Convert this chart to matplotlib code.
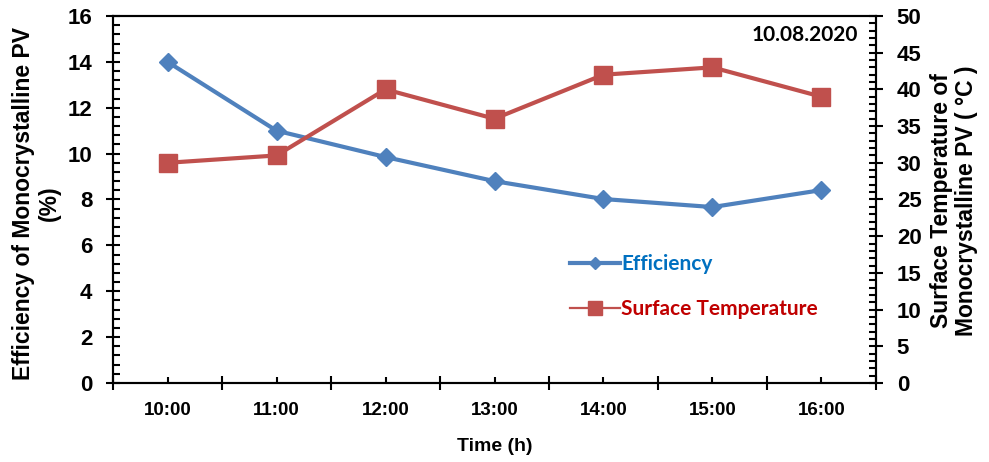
import matplotlib.pyplot as plt
from matplotlib.lines import Line2D
from matplotlib.ticker import MultipleLocator, FixedLocator

# data
times = ['10:00', '11:00', '12:00', '13:00', '14:00', '15:00', '16:00']
efficiency = [14.0, 11.0, 9.85, 8.8, 8.02, 7.67, 8.41]
surface_temp = [30, 31, 40, 36, 42, 43, 39]

blue = '#4F81BD'
red = '#C0504D'
calib = ['Lato', 'DejaVu Sans']

plt.rcParams['font.family'] = ['Liberation Sans', 'DejaVu Sans']
plt.rcParams['font.weight'] = 'bold'

fig = plt.figure(figsize=(9.89, 4.62), dpi=100)
ax = fig.add_axes([0.1143, 0.171, 0.7714, 0.7944])
ax2 = ax.twinx()

x = list(range(len(times)))
ax.plot(x, efficiency, color=blue, lw=3, marker='D', ms=9, zorder=3)
ax2.plot(x, surface_temp, color=red, lw=3, marker='s', ms=12.5, zorder=3)

ax.set_xlim(-0.5, len(times) - 0.5)
ax.set_ylim(0, 16)
ax2.set_ylim(0, 50)

# x axis: category labels centred, major ticks between categories
ax.xaxis.set_major_locator(FixedLocator([i - 0.5 for i in range(len(times) + 1)]))
ax.xaxis.set_minor_locator(FixedLocator(x))
ax.set_xticklabels([''] * (len(times) + 1))
ax.set_xticklabels(times, minor=True, fontsize=13.5, fontweight='bold')
ax.tick_params(axis='x', which='major', direction='inout', length=10, width=1.5)
ax.tick_params(axis='x', which='minor', direction='in', length=4, width=1.5, pad=14)

ax.yaxis.set_major_locator(MultipleLocator(2))
ax.yaxis.set_minor_locator(MultipleLocator(0.4))
ax.tick_params(axis='y', which='major', direction='inout', length=10, width=1.5,
               labelsize=16, pad=10)
ax.tick_params(axis='y', which='minor', direction='in', length=5, width=1.5)

ax2.yaxis.set_major_locator(MultipleLocator(5))
ax2.yaxis.set_minor_locator(MultipleLocator(1))
ax2.tick_params(axis='y', which='major', direction='inout', length=10, width=1.5,
                labelsize=16, pad=10)
ax2.tick_params(axis='y', which='minor', direction='in', length=5, width=1.5)

for a in (ax, ax2):
    for s in a.spines.values():
        s.set_linewidth(1.5)

ax.set_xlabel('Time (h)', fontsize=14, fontweight='bold')
ax.xaxis.set_label_coords(0.5, -0.15)
ax.set_ylabel('Efficiency of Monocrystalline PV\n(%)', fontsize=16.5, fontweight='bold',
              linespacing=1.15)
ax.yaxis.set_label_coords(-0.068, 0.49)
ax2.set_ylabel('Surface Temperature of\nMonocrystalline PV ( °C )', fontsize=16.5,
               fontweight='bold', linespacing=1.1)
ax2.yaxis.set_label_coords(1.071, 0.496)

ax.text(0.976, 0.948, '10.08.2020', transform=ax.transAxes, ha='right', va='center',
        fontsize=15, fontweight='bold', family=calib)

handles = [Line2D([], [], color=blue, lw=3, marker='D', ms=6.5),
           Line2D([], [], color=red, lw=1.6, marker='s', ms=10.5)]
ax.legend(handles, ['Efficiency', 'Surface Temperature'], loc='center left',
          bbox_to_anchor=(0.588, 0.262), frameon=False, handlelength=2.4,
          labelspacing=1.2, handletextpad=0.05, borderaxespad=0,
          prop={'family': calib, 'weight': 'bold', 'size': 15},
          labelcolor=['#0070C0', '#C00000'])

fig.savefig('out.png', dpi=100)
